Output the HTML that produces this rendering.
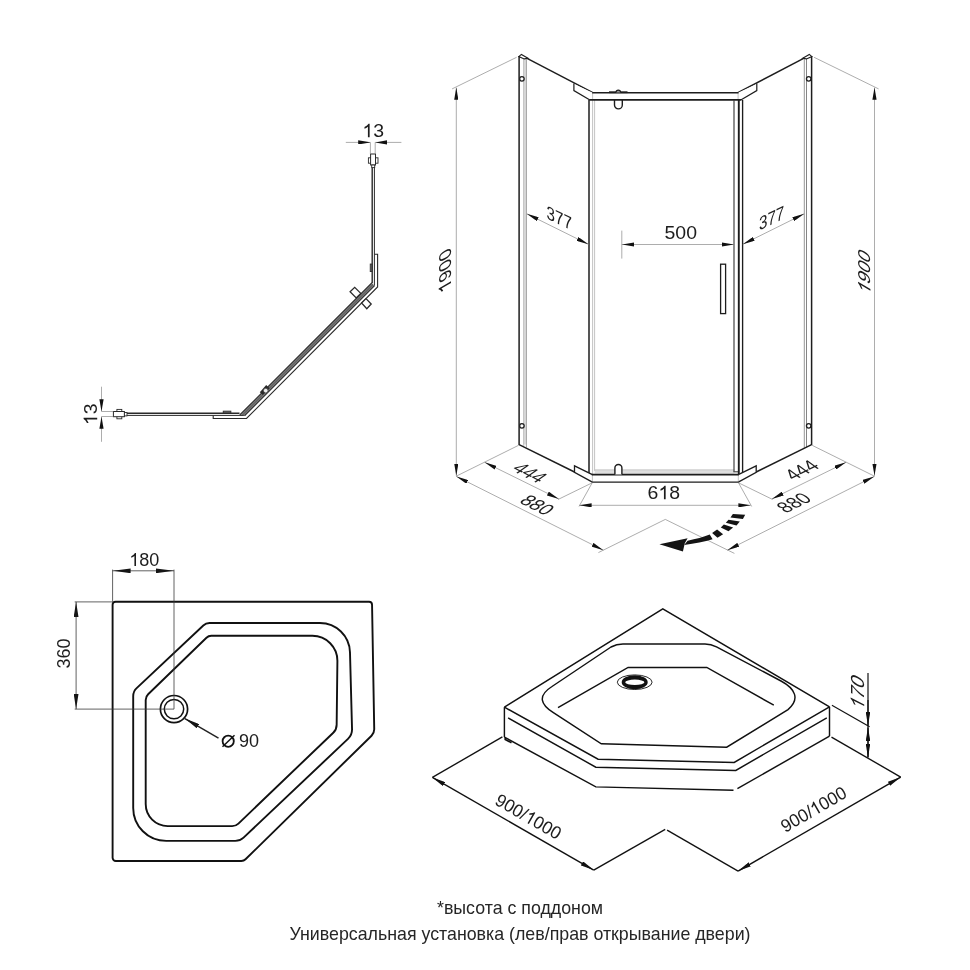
<!DOCTYPE html>
<html><head><meta charset="utf-8"><title>Shower enclosure drawing</title>
<style>
html,body{margin:0;padding:0;background:#fff;}
body{width:970px;height:970px;overflow:hidden;position:relative;font-family:"Liberation Sans",sans-serif;}
svg{position:absolute;left:0;top:0;will-change:transform;}
svg text{font-family:"Liberation Sans",sans-serif;fill:#1d1d1d;}
.cap{position:absolute;left:70px;width:900px;text-align:center;color:#262626;font-family:"Liberation Sans",sans-serif;white-space:nowrap;}
</style></head><body>
<svg width="970" height="970" viewBox="0 0 970 970" stroke-linecap="butt" stroke-linejoin="miter">
<defs>
<marker id="ah" viewBox="0 0 12.2 4.2" markerWidth="12.2" markerHeight="4.2" refX="12.2" refY="2.1" orient="auto-start-reverse" markerUnits="userSpaceOnUse"><path d="M0,0 L12.2,2.1 L0,4.2 z" fill="#111"/></marker>
<marker id="ah2" viewBox="0 0 15 4.8" markerWidth="15" markerHeight="4.8" refX="15" refY="2.4" orient="auto-start-reverse" markerUnits="userSpaceOnUse"><path d="M0,0 L15,2.4 L0,4.8 z" fill="#151515"/></marker>
<marker id="ah4" viewBox="0 0 18 4.8" markerWidth="18" markerHeight="4.8" refX="18" refY="2.4" orient="auto-start-reverse" markerUnits="userSpaceOnUse"><path d="M0,0 L18,2.4 L0,4.8 z" fill="#151515"/></marker>
<marker id="ah3" viewBox="0 0 13.5 4.6" markerWidth="13.5" markerHeight="4.6" refX="13.5" refY="2.3" orient="auto-start-reverse" markerUnits="userSpaceOnUse"><path d="M0,0 L13.5,2.3 L0,4.6 z" fill="#111"/></marker>
</defs>
<g id="enclosure">
<rect x="523.3" y="58.5" width="3" height="386" fill="#dcdcdc"/>
<line x1="523.7" y1="58.5" x2="523.7" y2="446" stroke="#b4b4b4" stroke-width="0.8" />
<line x1="526.4" y1="58.5" x2="526.4" y2="447.5" stroke="#8a8a8a" stroke-width="0.8" />
<line x1="806.5" y1="58.5" x2="806.5" y2="447.2" stroke="#777" stroke-width="0.9" />
<line x1="804.3" y1="58.8" x2="804.3" y2="448.2" stroke="#8a8a8a" stroke-width="0.9" />
<line x1="592.6" y1="100" x2="592.6" y2="474" stroke="#b4b4b4" stroke-width="0.8" />
<line x1="594.6" y1="100" x2="594.6" y2="471" stroke="#b4b4b4" stroke-width="0.8" />
<rect x="594.6" y="470.2" width="139.8" height="3.6" fill="#dedede"/>
<line x1="594.6" y1="469.9" x2="734.4" y2="469.9" stroke="#b4b4b4" stroke-width="0.8" />
<line x1="519.1" y1="56" x2="519.1" y2="445.0" stroke="#1d1d1d" stroke-width="1.5" />
<path d="M518.8,56.6 L521.4,54.4 L528,58.2 L524.2,58.9 Z" stroke="#1d1d1d" stroke-width="1.1" fill="#fff" />
<circle cx="521.9" cy="78.8" r="2.25" fill="#fff" stroke="#1d1d1d" stroke-width="1.3"/>
<circle cx="521.9" cy="425.8" r="2.25" fill="#fff" stroke="#1d1d1d" stroke-width="1.3"/>
<line x1="811.6" y1="56" x2="811.6" y2="445.0" stroke="#1d1d1d" stroke-width="1.5" />
<path d="M811.9,56.6 L809.3,54.4 L802.7,58.2 L806.5,58.9 Z" stroke="#1d1d1d" stroke-width="1.1" fill="#fff" />
<circle cx="808.7" cy="78.8" r="2.25" fill="#fff" stroke="#1d1d1d" stroke-width="1.3"/>
<circle cx="808.7" cy="425.8" r="2.25" fill="#fff" stroke="#1d1d1d" stroke-width="1.3"/>
<line x1="526.6" y1="58.2" x2="592.8" y2="92.7" stroke="#1d1d1d" stroke-width="1.5" />
<line x1="804.1" y1="58.2" x2="737.9" y2="92.7" stroke="#1d1d1d" stroke-width="1.5" />
<polygon points="573.9,83.9 573.9,90.6 589.5,99.9 592.8,99.9 592.8,92.7" fill="#fff"/>
<path d="M573.9,83.6 L573.9,90.6 L589.9,99.9" stroke="#1d1d1d" stroke-width="1.2" fill="none" />
<line x1="592.6" y1="92.7" x2="592.6" y2="99.9" stroke="#b4b4b4" stroke-width="0.8" />
<polygon points="756.8,83.9 756.8,90.6 741.2,99.9 737.9,99.9 737.9,92.7" fill="#fff"/>
<path d="M756.8,83.6 L756.8,90.6 L740.8,99.9" stroke="#1d1d1d" stroke-width="1.2" fill="none" />
<line x1="738.1" y1="92.7" x2="738.1" y2="99.9" stroke="#b4b4b4" stroke-width="0.8" />
<line x1="592.2" y1="92.7" x2="738.5" y2="92.7" stroke="#1d1d1d" stroke-width="1.5" />
<line x1="589.5" y1="99.9" x2="741.2" y2="99.9" stroke="#1d1d1d" stroke-width="1.6" />
<line x1="609" y1="92.2" x2="627.5" y2="92.2" stroke="#1d1d1d" stroke-width="1.8" />
<path d="M616,92.4 A2.3,2.3 0 0 1 620.6,92.4" stroke="#1d1d1d" stroke-width="1.1" fill="#9a9a9a" />
<path d="M614.5,100 L614.5,105 A3.9,3.9 0 0 0 622.3,105 L622.3,100" stroke="#1d1d1d" stroke-width="1.4" fill="none" />
<line x1="589" y1="99.9" x2="589" y2="474.6" stroke="#1d1d1d" stroke-width="1.5" />
<line x1="734" y1="100" x2="734" y2="471.8" stroke="#3c3c3c" stroke-width="1.15" />
<line x1="733.5" y1="471.8" x2="738.5" y2="471.8" stroke="#3c3c3c" stroke-width="1.1" />
<line x1="738.8" y1="99.9" x2="738.8" y2="474.6" stroke="#1d1d1d" stroke-width="1.9" />
<line x1="742.6" y1="99.9" x2="742.6" y2="472.6" stroke="#1d1d1d" stroke-width="1.35" />
<line x1="519.1" y1="444.6" x2="574.5" y2="472.0" stroke="#1d1d1d" stroke-width="1.5" />
<line x1="811.6" y1="444.6" x2="756.2" y2="472.0" stroke="#1d1d1d" stroke-width="1.5" />
<path d="M592.4,474.6 L574.5,465.9 L574.5,472.4 L592.4,482.1" stroke="#1d1d1d" stroke-width="1.3" fill="#fff" />
<line x1="592.4" y1="474.6" x2="592.4" y2="482.1" stroke="#b4b4b4" stroke-width="0.8" />
<path d="M738.3,474.6 L756.2,465.9 L756.2,472.4 L738.3,482.1" stroke="#1d1d1d" stroke-width="1.3" fill="#fff" />
<line x1="738.3" y1="474.6" x2="738.3" y2="482.1" stroke="#b4b4b4" stroke-width="0.8" />
<line x1="591.8" y1="474.6" x2="738.9" y2="474.6" stroke="#1d1d1d" stroke-width="1.6" />
<line x1="591.8" y1="482.1" x2="738.9" y2="482.1" stroke="#1d1d1d" stroke-width="1.4" />
<path d="M614.9,474.6 L614.9,468 A3.5,3.5 0 0 1 621.9,468 L621.9,474.6" stroke="#1d1d1d" stroke-width="1.4" fill="#fff" />
<rect x="720.6" y="264.2" width="5" height="49.4" fill="#fff" stroke="#1d1d1d" stroke-width="1.3"/>
<line x1="452.1" y1="88.9" x2="516.6" y2="57.3" stroke="#8a8a8a" stroke-width="0.7" />
<line x1="456" y1="476.3" x2="518.6" y2="445.3" stroke="#8a8a8a" stroke-width="0.7" />
<line x1="456.3" y1="475.7" x2="456.3" y2="87.5" stroke="#8a8a8a" stroke-width="0.7"  marker-start="url(#ah)" marker-end="url(#ah)"/>
<line x1="878.6" y1="88.9" x2="814.1" y2="57.3" stroke="#8a8a8a" stroke-width="0.7" />
<line x1="874.7" y1="476.3" x2="812.1" y2="445.3" stroke="#8a8a8a" stroke-width="0.7" />
<line x1="874.5" y1="475.7" x2="874.5" y2="87.5" stroke="#8a8a8a" stroke-width="0.7"  marker-start="url(#ah)" marker-end="url(#ah)"/>
<line x1="526.8" y1="213.8" x2="588.4" y2="244.3" stroke="#8a8a8a" stroke-width="0.7"  marker-start="url(#ah)" marker-end="url(#ah)"/>
<line x1="742.8" y1="244.3" x2="804.2" y2="213.8" stroke="#8a8a8a" stroke-width="0.7"  marker-start="url(#ah)" marker-end="url(#ah)"/>
<line x1="621.8" y1="230.6" x2="621.8" y2="258.6" stroke="#8a8a8a" stroke-width="0.7" />
<line x1="621.8" y1="244.5" x2="734" y2="244.5" stroke="#8a8a8a" stroke-width="0.7"  marker-start="url(#ah)" marker-end="url(#ah)"/>
<line x1="592.2" y1="482.8" x2="579" y2="506.5" stroke="#8a8a8a" stroke-width="0.7" />
<line x1="738.5" y1="482.8" x2="751.7" y2="506.5" stroke="#8a8a8a" stroke-width="0.7" />
<line x1="579.4" y1="505.3" x2="750.6" y2="505.3" stroke="#8a8a8a" stroke-width="0.7"  marker-start="url(#ah)" marker-end="url(#ah)"/>
<line x1="592.2" y1="482.8" x2="558" y2="499.5" stroke="#8a8a8a" stroke-width="0.7" />
<line x1="484.6" y1="462.3" x2="558.8" y2="498.9" stroke="#8a8a8a" stroke-width="0.7"  marker-start="url(#ah)" marker-end="url(#ah)"/>
<line x1="738.5" y1="482.8" x2="772.7" y2="499.5" stroke="#8a8a8a" stroke-width="0.7" />
<line x1="846.1" y1="462.3" x2="771.9" y2="498.9" stroke="#8a8a8a" stroke-width="0.7"  marker-start="url(#ah)" marker-end="url(#ah)"/>
<line x1="456.4" y1="476.4" x2="603.4" y2="550.2" stroke="#8a8a8a" stroke-width="0.7"  marker-start="url(#ah)" marker-end="url(#ah)"/>
<line x1="874.3" y1="476.4" x2="727.3" y2="550.2" stroke="#8a8a8a" stroke-width="0.7"  marker-start="url(#ah)" marker-end="url(#ah)"/>
<path d="M598.4,552.6 L665.3,519.4 L734.4,553.4" stroke="#8a8a8a" stroke-width="0.7" fill="none" />
<g transform="matrix(1,0,0,0.97,680.8,239.2)" ><text x="-16.26" y="0" font-size="19.5">500</text></g>
<g transform="matrix(1,0,0,0.97,663.8,499.3)" ><text x="-16.26" y="0" font-size="19.5">6</text><path transform="translate(-5.42,0) scale(19.5)" d="M0.373,0 L0.285,0 L0.285,-0.560 Q0.205,-0.492 0.109,-0.455 L0.109,-0.541 Q0.262,-0.612 0.316,-0.719 L0.373,-0.719 Z" fill="#1d1d1d"/><text x="5.42" y="0" font-size="19.5">8</text></g>
<g transform="matrix(0.78,0.39,0,0.97,559.2,224.5)" ><text x="-16.26" y="0" font-size="19.5">377</text></g>
<g transform="matrix(0.78,-0.39,0,0.97,771.6,224.5)" ><text x="-16.26" y="0" font-size="19.5">377</text></g>
<g transform="matrix(0,-0.97,0.88,-0.51,451,267.3)" ><path transform="translate(-21.68,0) scale(19.5)" d="M0.373,0 L0.285,0 L0.285,-0.560 Q0.205,-0.492 0.109,-0.455 L0.109,-0.541 Q0.262,-0.612 0.316,-0.719 L0.373,-0.719 Z" fill="#1d1d1d"/><text x="-10.84" y="0" font-size="19.5">900</text></g>
<g transform="matrix(0,-0.97,0.88,0.51,870.4,275)" ><path transform="translate(-21.68,0) scale(19.5)" d="M0.373,0 L0.285,0 L0.285,-0.560 Q0.205,-0.492 0.109,-0.455 L0.109,-0.541 Q0.262,-0.612 0.316,-0.719 L0.373,-0.719 Z" fill="#1d1d1d"/><text x="-10.84" y="0" font-size="19.5">900</text></g>
<g transform="matrix(0.827,0.413,-0.84,0.60,524.2,476.7)" ><text x="-16.26" y="0" font-size="19.5">444</text></g>
<g transform="matrix(0.827,0.413,-0.84,0.60,531.6,509)" ><text x="-16.26" y="0" font-size="19.5">880</text></g>
<g transform="matrix(0.827,-0.413,0.84,0.60,807.3,474)" ><text x="-16.26" y="0" font-size="19.5">444</text></g>
<g transform="matrix(0.827,-0.413,0.84,0.60,799.4,506.8)" ><text x="-16.26" y="0" font-size="19.5">880</text></g>
<polygon points="732.9,513.9 745.2,514.8 742.9,519.1 730.5,517.5" fill="#141414"/>
<polygon points="728.5,519.8 739.8,521.5 736.5,525.5 725.8,522.8" fill="#141414"/>
<polygon points="723.8,524.6 733.1,527.5 728.5,531.3 720.8,527.5" fill="#141414"/>
<polygon points="717.1,529.5 723.1,534.2 717.5,537.8 712.1,532.9" fill="#141414"/>
<path d="M709.7,534.6 Q700.3,538.4 687.6,540.7 L684.2,545 Q700.3,543 712.6,539.3 Z" fill="#141414"/>
<polygon points="659.4,544.3 687.6,538.2 684.8,543.2 682.9,551.4" fill="#141414"/>
</g>
<g id="plan">
<line x1="372.2" y1="167.5" x2="372.2" y2="283" stroke="#2a2a2a" stroke-width="1.4" />
<line x1="374.4" y1="167.5" x2="374.4" y2="285.6" stroke="#2a2a2a" stroke-width="1.0" />
<rect x="368.4" y="157.8" width="9.6" height="5.4" fill="#fff" stroke="#2a2a2a" stroke-width="0.9"/>
<rect x="370.6" y="154" width="4.9" height="11" fill="#fff" stroke="#2a2a2a" stroke-width="1.0"/>
<rect x="371.7" y="165" width="3" height="2.6" fill="#fff" stroke="#2a2a2a" stroke-width="0.9"/>
<line x1="126.9" y1="413.3" x2="239.5" y2="413.3" stroke="#2a2a2a" stroke-width="1.4" />
<line x1="126.9" y1="415.4" x2="245.4" y2="415.4" stroke="#2a2a2a" stroke-width="1.0" />
<rect x="116.9" y="409.4" width="4.9" height="9.4" fill="#fff" stroke="#2a2a2a" stroke-width="0.9"/>
<rect x="113.4" y="411.5" width="11" height="5.2" fill="#fff" stroke="#2a2a2a" stroke-width="1.0"/>
<rect x="124.4" y="412.5" width="2.6" height="3.4" fill="#fff" stroke="#2a2a2a" stroke-width="0.9"/>
<path d="M374.4,254.2 L377.6,254.2 L377.6,287.0 L246.5,418.5 L213.2,418.5 L213.2,415.4" stroke="#2a2a2a" stroke-width="1.1" fill="none" />
<polygon points="239.6,414.6 371.6,282.6 374.6,285.4 245.4,415.4" fill="#a8a8a8"/>
<line x1="239.8" y1="414.9" x2="372.1" y2="282.6" stroke="#2a2a2a" stroke-width="1.15" />
<line x1="241.3" y1="415.3" x2="372.6" y2="284.0" stroke="#2a2a2a" stroke-width="0.85" />
<line x1="243.0" y1="415.4" x2="373.4" y2="285.0" stroke="#2a2a2a" stroke-width="0.85" />
<line x1="244.9" y1="415.4" x2="374.6" y2="285.7" stroke="#2a2a2a" stroke-width="1.1" />
<rect x="370.2" y="264" width="1.8" height="7.6" fill="#666" stroke="#2a2a2a" stroke-width="0.8"/>
<rect x="223.2" y="411.1" width="7.7" height="1.9" fill="#666" stroke="#2a2a2a" stroke-width="0.8"/>
<path d="M350.1,291.7 L354.7,287.3 L360.8,293.4 L356.2,297.9 Z" stroke="#2a2a2a" stroke-width="1.3" fill="#fff" />
<path d="M361.6,303.0 L366.0,298.6 L371.2,304.0 L366.8,308.7 Z" stroke="#2a2a2a" stroke-width="1.3" fill="#fff" />
<polygon points="259.8,392.3 266.2,385.0 269.6,388.2 262.8,394.9" fill="#2a2a2a"/>
<circle cx="265.7" cy="390.6" r="2.3" fill="#ececec" stroke="#2a2a2a" stroke-width="0.6"/>
<line x1="345.8" y1="142.4" x2="370.4" y2="142.4" stroke="#8a8a8a" stroke-width="0.7"  marker-end="url(#ah)"/>
<line x1="401.4" y1="142.4" x2="375.2" y2="142.4" stroke="#8a8a8a" stroke-width="0.7"  marker-end="url(#ah)"/>
<line x1="370.4" y1="142.4" x2="370.4" y2="154" stroke="#8a8a8a" stroke-width="0.7" />
<line x1="375.2" y1="142.4" x2="375.2" y2="154" stroke="#8a8a8a" stroke-width="0.7" />
<g transform="matrix(1,0,0,0.97,373.2,137.3)" ><path transform="translate(-10.84,0) scale(19.5)" d="M0.373,0 L0.285,0 L0.285,-0.560 Q0.205,-0.492 0.109,-0.455 L0.109,-0.541 Q0.262,-0.612 0.316,-0.719 L0.373,-0.719 Z" fill="#1d1d1d"/><text x="0.00" y="0" font-size="19.5">3</text></g>
<line x1="101.5" y1="386.7" x2="101.5" y2="411.5" stroke="#8a8a8a" stroke-width="0.7"  marker-end="url(#ah)"/>
<line x1="101.5" y1="441.8" x2="101.5" y2="416.5" stroke="#8a8a8a" stroke-width="0.7"  marker-end="url(#ah)"/>
<line x1="101.5" y1="411.5" x2="113.3" y2="411.5" stroke="#8a8a8a" stroke-width="0.7" />
<line x1="101.5" y1="416.5" x2="113.3" y2="416.5" stroke="#8a8a8a" stroke-width="0.7" />
<g transform="matrix(0,-1,0.97,0,97.2,414.2)" ><path transform="translate(-10.84,0) scale(19.5)" d="M0.373,0 L0.285,0 L0.285,-0.560 Q0.205,-0.492 0.109,-0.455 L0.109,-0.541 Q0.262,-0.612 0.316,-0.719 L0.373,-0.719 Z" fill="#1d1d1d"/><text x="0.00" y="0" font-size="19.5">3</text></g>
</g>
<g id="trayplan">
<path d="M112.60,604.80 A3,3 0 0 1 115.60,601.80 L369.05,601.80 A3,3 0 0 1 372.05,604.75 L374.23,729.13 A9,9 0 0 1 371.54,735.71 L245.55,859.28 A6,6 0 0 1 241.35,861.00 L115.80,861.00 A3.2,3.2 0 0 1 112.60,857.80 Z" stroke="#111" stroke-width="1.9" fill="none" />
<path d="M133.20,696.15 A11,11 0 0 1 136.66,688.14 L203.30,625.45 A9,9 0 0 1 209.47,623.00 L319.99,623.00 A30,30 0 0 1 349.98,652.20 L352.04,729.10 A13,13 0 0 1 347.98,738.89 L243.57,837.62 A12,12 0 0 1 235.32,840.90 L166.20,840.90 A33,33 0 0 1 133.20,807.90 Z" stroke="#111" stroke-width="1.9" fill="none" />
<path d="M145.70,699.99 A8,8 0 0 1 148.14,694.24 L206.46,637.77 A7,7 0 0 1 211.33,635.80 L312.40,635.80 A25,25 0 0 1 337.40,661.09 L336.65,724.88 A11,11 0 0 1 333.27,732.70 L238.41,823.60 A9,9 0 0 1 232.18,826.10 L167.70,826.10 A22,22 0 0 1 145.70,804.10 Z" stroke="#111" stroke-width="1.9" fill="none" />
<circle cx="174" cy="709.1" r="13.6" fill="none" stroke="#111" stroke-width="1.7"/>
<circle cx="174" cy="709.1" r="9.7" fill="none" stroke="#111" stroke-width="1.5"/>
<line x1="112.6" y1="569.6" x2="112.6" y2="601.8" stroke="#3a3a3a" stroke-width="0.8" />
<line x1="174" y1="569.6" x2="174" y2="709.1" stroke="#3a3a3a" stroke-width="0.8" />
<line x1="112.6" y1="570.8" x2="174" y2="570.8" stroke="#3a3a3a" stroke-width="0.8"  marker-start="url(#ah4)" marker-end="url(#ah4)"/>
<line x1="74.7" y1="601.9" x2="112.6" y2="601.9" stroke="#3a3a3a" stroke-width="0.8" />
<line x1="74.7" y1="709.1" x2="174" y2="709.1" stroke="#3a3a3a" stroke-width="0.8" />
<line x1="76.1" y1="601.9" x2="76.1" y2="709.1" stroke="#3a3a3a" stroke-width="0.8"  marker-start="url(#ah2)" marker-end="url(#ah2)"/>
<line x1="218.5" y1="738.1" x2="184.9" y2="718.6" stroke="#222" stroke-width="1.5"  marker-end="url(#ah2)"/>
<g transform="matrix(1,0,0,1,144.3,566.0)" ><path transform="translate(-15.01,0) scale(18)" d="M0.373,0 L0.285,0 L0.285,-0.560 Q0.205,-0.492 0.109,-0.455 L0.109,-0.541 Q0.262,-0.612 0.316,-0.719 L0.373,-0.719 Z" fill="#1d1d1d"/><text x="-5.00" y="0" font-size="18">80</text></g>
<g transform="matrix(0,-1,1,0,70.0,653.5)" ><text x="-15.01" y="0" font-size="18">360</text></g>
<g transform="matrix(1,0,0,1,248.9,747.3)" ><text x="-10.01" y="0" font-size="18">90</text></g>
<circle cx="228.2" cy="741.2" r="5.6" fill="none" stroke="#111" stroke-width="1.8"/>
<line x1="222.5" y1="746.7" x2="234.5" y2="735.3" stroke="#111" stroke-width="1.5" />
</g>
<g id="tray3d">
<path d="M504.4,707.2 L662.8,608.9 L829.5,706.8" stroke="#111" stroke-width="1.45" fill="none" />
<path d="M504.4,707.2 L598.1,759.2 L734.2,762.4 L829.5,706.8" stroke="#111" stroke-width="1.45" fill="none" />
<path d="M508.1,717.9 L595.8,767.2 L735.8,770.4 L826.8,717.9" stroke="#111" stroke-width="1.45" fill="none" />
<line x1="504.4" y1="707.2" x2="504.4" y2="737.1" stroke="#111" stroke-width="1.45" />
<line x1="829.5" y1="706.8" x2="829.5" y2="736.1" stroke="#111" stroke-width="1.45" />
<path d="M504.4,737.1 L595.8,786.9 L733.5,790.3" stroke="#111" stroke-width="1.45" fill="none" />
<line x1="737.4" y1="788.7" x2="829.5" y2="736.1" stroke="#111" stroke-width="1.45" />
<path d="M505.2,737.6 L505.2,739.4 L511.5,742.8" stroke="#111" stroke-width="1.6" fill="none" />
<path d="M726.7,747.2 L601.3,743.8 L553,712.4 C541,704.6 537,696 552,686.5 L611,647 Q616.5,643.9 623,643.9 L705,643.9 Q711,643.9 716.5,646.8 L781,681 C795,688.5 800.5,699 788,709.6 Z" stroke="#111" stroke-width="1.45" fill="none" />
<path d="M558,707.6 L628.1,667.4 L706.8,667.4 L773.8,705.2" stroke="#111" stroke-width="1.45" fill="none" />
<ellipse cx="634.7" cy="682.2" rx="17.4" ry="7.3" fill="none" stroke="#111" stroke-width="0.9"/>
<path fill-rule="evenodd" fill="#111" d="M621.7,682.2 a13,7 0 1 0 26,0 a13,7 0 1 0 -26,0 Z M625.2,682.3 a9.6,2.7 0 1 0 19.2,0 a9.6,2.7 0 1 0 -19.2,0 Z"/>
<line x1="502.4" y1="736.9" x2="432.4" y2="777.4" stroke="#111" stroke-width="1.35" />
<line x1="432.4" y1="777.4" x2="593.7" y2="870.1" stroke="#111" stroke-width="1.35"  marker-start="url(#ah3)" marker-end="url(#ah3)"/>
<path d="M593.7,870.1 L665.2,829.3" stroke="#111" stroke-width="1.35" fill="none" />
<path d="M667.1,830.1 L738.1,871.1" stroke="#111" stroke-width="1.35" fill="none" />
<line x1="738.1" y1="871.1" x2="900.7" y2="777.1" stroke="#111" stroke-width="1.35"  marker-start="url(#ah3)" marker-end="url(#ah3)"/>
<line x1="831.5" y1="737.1" x2="900.7" y2="777.1" stroke="#111" stroke-width="1.35" />
<line x1="831.9" y1="705.2" x2="869.6" y2="726.8" stroke="#111" stroke-width="1.2" />
<line x1="868" y1="673" x2="868" y2="757.5" stroke="#111" stroke-width="1.2" />
<line x1="868" y1="700" x2="868" y2="725.6" stroke="#111" stroke-width="1.2"  marker-end="url(#ah3)"/>
<line x1="868" y1="727.4" x2="868" y2="757.3" stroke="#111" stroke-width="1.2"  marker-start="url(#ah3)" marker-end="url(#ah3)"/>
<g transform="matrix(0.84,0.485,-0.5,0.866,525.3,821.9)" ><text x="-37.53" y="0" font-size="18">900/</text><path transform="translate(-2.50,0) scale(18)" d="M0.373,0 L0.285,0 L0.285,-0.560 Q0.205,-0.492 0.109,-0.455 L0.109,-0.541 Q0.262,-0.612 0.316,-0.719 L0.373,-0.719 Z" fill="#1d1d1d"/><text x="7.51" y="0" font-size="18">000</text></g>
<g transform="matrix(0.84,-0.485,0.5,0.866,816.7,814.7)" ><text x="-37.53" y="0" font-size="18">900/</text><path transform="translate(-2.50,0) scale(18)" d="M0.373,0 L0.285,0 L0.285,-0.560 Q0.205,-0.492 0.109,-0.455 L0.109,-0.541 Q0.262,-0.612 0.316,-0.719 L0.373,-0.719 Z" fill="#1d1d1d"/><text x="7.51" y="0" font-size="18">000</text></g>
<g transform="matrix(0,-1,0.97,0.5,864.2,695.4)" ><path transform="translate(-16.26,0) scale(19.5)" d="M0.373,0 L0.285,0 L0.285,-0.560 Q0.205,-0.492 0.109,-0.455 L0.109,-0.541 Q0.262,-0.612 0.316,-0.719 L0.373,-0.719 Z" fill="#1d1d1d"/><text x="-5.42" y="0" font-size="19.5">70</text></g>
</g>
</svg>
<div class="cap" style="top:896.5px;font-size:17.8px;line-height:22px;">*высота с поддоном</div>
<div class="cap" style="top:922.8px;font-size:17.8px;line-height:22px;">Универсальная установка (лев/прав открывание двери)</div>
</body></html>
